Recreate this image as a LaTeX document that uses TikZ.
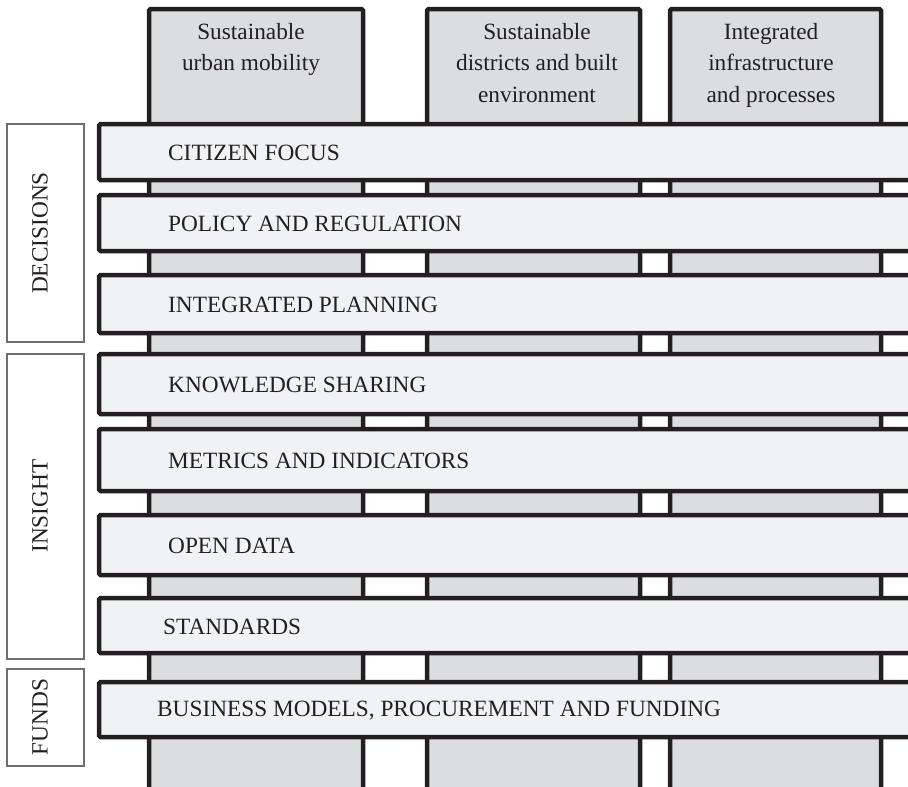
\documentclass[tikz,border=0pt]{standalone}
\usepackage{fontspec}
\setmainfont{Liberation Serif}
\usepackage{xcolor}
\definecolor{pillargray}{HTML}{DCDDDF}
\definecolor{layergray}{HTML}{F1F2F3}
\definecolor{framegray}{HTML}{6D6E71}
\definecolor{ink}{HTML}{231F20}

\begin{document}
\begin{tikzpicture}[x=1pt,y=-1pt,
    pillar/.style={draw=ink, line width=4.5pt, fill=pillargray, rounded corners=1.5pt},
    layer/.style={draw=ink, line width=4.5pt, fill=layergray, rounded corners=1.5pt},
    group/.style={draw=framegray, line width=1.3pt, fill=white},
    lbl/.style={inner sep=0pt, text=ink, font=\fontsize{23.3}{31.5}\selectfont}]
\useasboundingbox (0,0) rectangle (908,787);

    % pillars, open at the bottom
    \foreach \l/\r in {149/363, 427/640, 670/881}
        \draw[pillar] (\l,795) -- (\l,9) -- (\r,9) -- (\r,795);

    \node[lbl, anchor=north, align=center] (mobility) at (251,23)
        {Sustainable\\urban mobility};
    \node[lbl, anchor=north, align=center] (districts) at (537,23)
        {Sustainable\\districts and built\\environment};
    \node[lbl, anchor=north, align=center] (infra) at (771,23)
        {Integrated\\infrastructure\\and processes};

    % layers, open at the right
    \foreach \t/\b/\x/\name/\txt in {
        124/180/168/citizen/{CITIZEN FOCUS},
        195/251/168/policy/{POLICY AND REGULATION},
        275/333/168/planning/{INTEGRATED PLANNING},
        354/414/168/knowledge/{KNOWLEDGE SHARING},
        429/491/168/metrics/{METRICS AND INDICATORS},
        515/575/168/opendata/{OPEN DATA},
        598/653/163/standards/{STANDARDS},
        682/737/157/business/{BUSINESS MODELS, PROCUREMENT AND FUNDING}}
    {
        \draw[layer] (915,\t) -- (99,\t) -- (99,\b) -- (915,\b);
        \node[lbl, anchor=west] (\name) at (\x,{(\t+\b)/2+1}) {\txt};
    }

    % groups
    \draw[group] (7,124) rectangle (84,342);
    \node[lbl, rotate=90] (decisions) at (40,233) {DECISIONS};
    \draw[group] (7,354) rectangle (84,659);
    \node[lbl, rotate=90] (insight) at (40,506) {INSIGHT};
    \draw[group] (7,669) rectangle (84,766);
    \node[lbl, rotate=90] (funds) at (40,717) {FUNDS};
\end{tikzpicture}
\end{document}
